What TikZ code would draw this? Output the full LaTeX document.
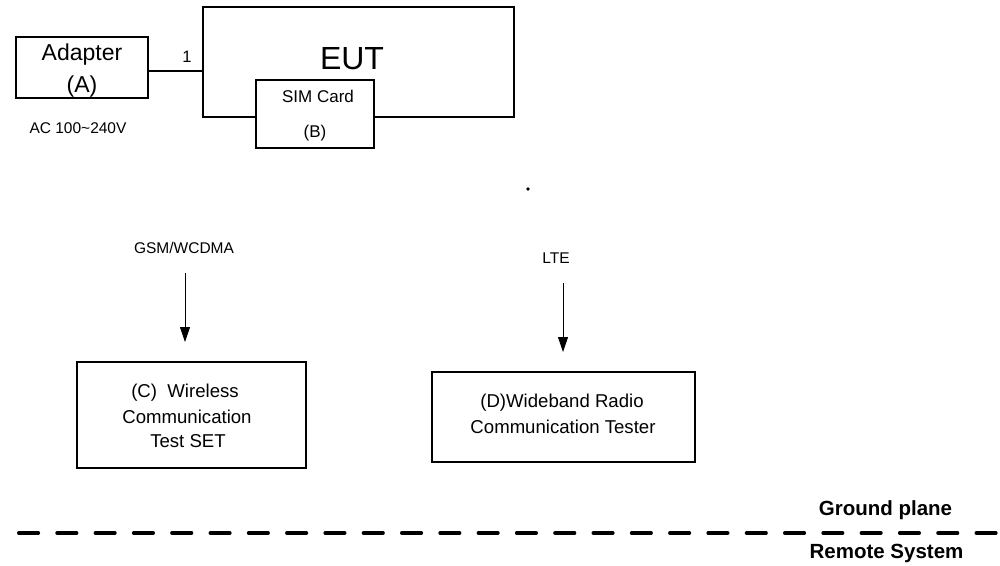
\documentclass[tikz,border=0pt]{standalone}
\usepackage{fontspec}
\setmainfont{Liberation Sans}
\usetikzlibrary{arrows.meta}
\begin{document}
\begin{tikzpicture}[x=1pt,y=-1pt,
  box/.style={draw,line width=1.5pt,inner sep=0pt,fill=white},
  txt/.style={inner sep=0pt,anchor=base},
  sig/.style={line width=0.9pt,-{Triangle[width=10pt,length=15pt]}}]
\useasboundingbox (0,0) rectangle (1000,565);
% boxes
\node[box,minimum width=132pt,minimum height=61pt] (A) at (82,67.5) {};
\node[box,minimum width=311pt,minimum height=110pt] (EUT) at (358.5,62) {};
\node[box,minimum width=118pt,minimum height=68pt] (B) at (315,114) {};
\node[box,minimum width=229pt,minimum height=106pt] (C) at (191.5,415) {};
\node[box,minimum width=263pt,minimum height=90pt] (D) at (563.5,417) {};
% connector adapter -> EUT
\draw[line width=1.5pt] (A.east |- 0,71) -- (EUT.west |- 0,71);
% texts
\node[txt,font=\fontsize{23}{23}\selectfont] (tA1) at (82,60) {Adapter};
\node[txt,font=\fontsize{23}{23}\selectfont] (tA2) at (82,92) {(A)};
\node[txt,font=\fontsize{16.5}{16.5}\selectfont] (t1) at (187,62) {1};
\node[txt,font=\fontsize{32}{32}\selectfont] (tEUT) at (352,69) {EUT};
\node[txt,font=\fontsize{17}{17}\selectfont] (tB1) at (318,102) {SIM Card};
\node[txt,font=\fontsize{17}{17}\selectfont] (tB2) at (315,137) {(B)};
\node[txt,font=\fontsize{15.5}{15.5}\selectfont] (tAC) at (78,133) {AC 100\textasciitilde240V};
\node[txt,font=\fontsize{15.5}{15.5}\selectfont] (tGSM) at (184,253) {GSM/WCDMA};
\node[txt,font=\fontsize{15.5}{15.5}\selectfont] (tLTE) at (556,263) {LTE};
\node[txt,font=\fontsize{18.6}{18.6}\selectfont] (tC1) at (185,397) {(C)\ \ Wireless};
\node[txt,font=\fontsize{18.6}{18.6}\selectfont] (tC2) at (187,423) {Communication};
\node[txt,font=\fontsize{18.6}{18.6}\selectfont] (tC3) at (188,447) {Test SET};
\node[txt,font=\fontsize{18.6}{18.6}\selectfont] (tD1) at (562,407) {(D)Wideband Radio};
\node[txt,font=\fontsize{18.6}{18.6}\selectfont] (tD2) at (563,433) {Communication Tester};
\node[txt,font=\fontsize{20.5}{20.5}\selectfont\bfseries] (tG) at (885.5,515) {Ground plane};
\node[txt,font=\fontsize{20.5}{20.5}\selectfont\bfseries] (tR) at (886.5,558) {Remote System};
% arrows
\coordinate (g1) at (185,273);
\coordinate (g2) at (185,342);
\coordinate (l1) at (563,283);
\coordinate (l2) at (563,352);
\draw[sig] (g1) -- (g2);
\draw[sig] (l1) -- (l2);
% dot
\fill (528,189) circle (1.8pt);
% ground plane line
\coordinate (gpL) at (0,533);
\coordinate (gpR) at (1000,533);
\draw[line width=3.6pt,line cap=round,dash pattern=on 19.5pt off 18.8pt,dash phase=19.5pt] (gpL) -- (gpR);
\end{tikzpicture}
\end{document}
